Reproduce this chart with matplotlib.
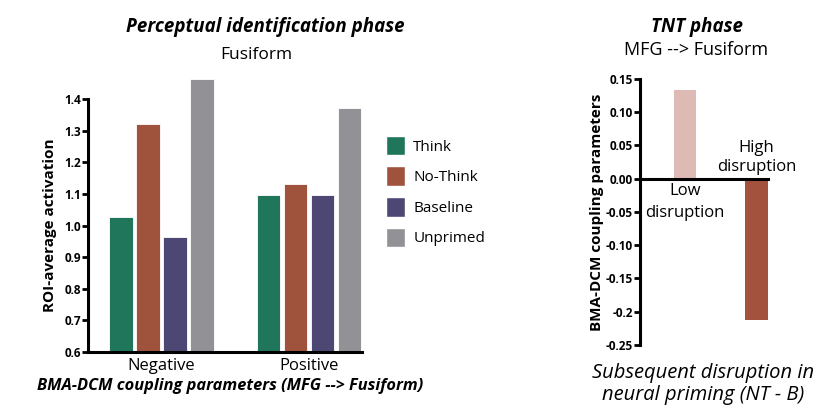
import matplotlib
matplotlib.use("Agg")
import matplotlib.pyplot as plt
import numpy as np
from matplotlib.patches import Patch
from matplotlib.ticker import FixedLocator, FixedFormatter

plt.rcParams.update({"font.family": "Open Sans", "font.size": 10})

# --- data -------------------------------------------------------------------
groups = ["Negative", "Positive"]
conditions = ["Think", "No-Think", "Baseline", "Unprimed"]
think = [1.026, 1.097]
no_think = [1.321, 1.132]
baseline = [0.963, 1.095]
unprimed = [1.463, 1.371]
cond_colors = ["#1f765a", "#a0533c", "#4d4873", "#929296"]

tnt_labels = ["Low\ndisruption", "High\ndisruption"]
tnt_values = [0.133, -0.212]
tnt_colors = ["#ddbbb4", "#a3523d"]
tnt_ticks = [0.15, 0.10, 0.05, 0.00, -0.05, -0.10, -0.15, -0.2, -0.25]
tnt_ticklabels = ["0.15", "0.10", "0.05", "0.00", "-0.05", "-0.10", "-0.15", "-0.2", "-0.25"]

W, H = 826, 408
fig = plt.figure(figsize=(W / 100, H / 100), dpi=100)


def px_axes(x0, y_top, x1, y_bot):
    return fig.add_axes([x0 / W, 1 - y_bot / H, (x1 - x0) / W, (y_bot - y_top) / H])


def style_spines(ax):
    for s in ["top", "right"]:
        ax.spines[s].set_visible(False)
    for s in ["left", "bottom"]:
        ax.spines[s].set_linewidth(2.2)
    ax.tick_params(axis="y", width=2, length=4, direction="out", pad=1)


# --- left panel ---------------------------------------------------------------
ax = px_axes(88, 99, 362, 352)
x = np.arange(len(groups))
step, bw = 0.183, 0.16
series = [think, no_think, baseline, unprimed]
for i, (vals, col) in enumerate(zip(series, cond_colors)):
    ax.bar(x + (i - 1.5) * step, np.array(vals) - 0.6, bw, bottom=0.6,
           color=col, edgecolor="white", linewidth=0.6, clip_on=False,
           label=conditions[i])
ax.set_ylim(0.6, 1.4)
ax.set_xlim(-0.5, 1.36)
ax.set_yticks(np.arange(0.6, 1.41, 0.1))
ax.set_yticklabels([f"{v:.1f}" for v in np.arange(0.6, 1.41, 0.1)],
                   fontsize=8.5, fontweight="bold")
ax.set_xticks(x)
ax.set_xticklabels(groups, fontsize=12)
ax.tick_params(axis="x", length=0, pad=4)
style_spines(ax)
ax.set_ylabel("ROI-average activation", fontsize=11, fontweight="bold", labelpad=5)

handles = [Patch(facecolor=c, edgecolor="white", label=l)
           for c, l in zip(cond_colors, conditions)]
fig.legend(handles=handles, loc="upper left", bbox_to_anchor=(372 / W, 1 - 122 / H),
           frameon=False, fontsize=11, handlelength=1.25, handleheight=1.6,
           labelspacing=0.72, handletextpad=0.55)

fig.text(265 / W, 1 - 27 / H, "Perceptual identification phase", ha="center",
         va="center", fontsize=13.5, fontweight="bold", style="italic")
fig.text(256 / W, 1 - 55 / H, "Fusiform", ha="center", va="center", fontsize=12.5)
fig.text(230 / W, 1 - 386 / H, "BMA-DCM coupling parameters (MFG --> Fusiform)",
         ha="center", va="center", fontsize=11.8, fontweight="bold", style="italic")

# --- right panel --------------------------------------------------------------
ax2 = px_axes(640, 78.7, 768, 345)
xr = np.arange(len(tnt_values))
ax2.bar(xr, tnt_values, 0.32, color=tnt_colors)
ax2.set_xlim(-0.629, 1.161)
ax2.set_ylim(-0.25, 0.15)
ax2.yaxis.set_major_locator(FixedLocator(tnt_ticks))
ax2.yaxis.set_major_formatter(FixedFormatter(tnt_ticklabels))
for t in ax2.get_yticklabels():
    t.set_fontsize(8.5)
    t.set_fontweight("bold")
ax2.spines["bottom"].set_position(("data", 0))
ax2.set_xticks([])
style_spines(ax2)
ax2.set_ylabel("BMA-DCM coupling parameters", fontsize=11, fontweight="bold", labelpad=1)

ax2.text(xr[0], -0.007, tnt_labels[0], ha="center", va="top", fontsize=12,
         linespacing=1.5)
ax2.text(xr[1], 0.006, tnt_labels[1], ha="center", va="bottom", fontsize=12,
         linespacing=1.25)

fig.text(697 / W, 1 - 27 / H, "TNT phase", ha="center", va="center",
         fontsize=13.5, fontweight="bold", style="italic")
fig.text(696 / W, 1 - 50 / H, "MFG --> Fusiform", ha="center", va="center", fontsize=13)
fig.text(703 / W, 1 - 384 / H, "Subsequent disruption in\nneural priming (NT - B)",
         ha="center", va="center", fontsize=14.5, style="italic",
         linespacing=1.15)

fig.savefig("out.png", dpi=100)
